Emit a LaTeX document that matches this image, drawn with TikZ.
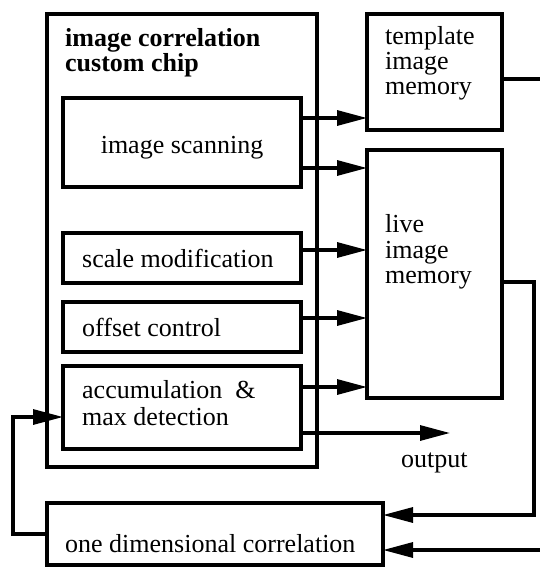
\documentclass[tikz,border=0pt]{standalone}
\usepackage{fontspec}
\setmainfont{Liberation Serif}
\usetikzlibrary{arrows.meta}
\begin{document}
\begin{tikzpicture}[x=1pt,y=-1pt,
  box/.style={draw, line width=3.5pt, rectangle, inner sep=0pt, outer sep=0pt, anchor=north west},
  lbl/.style={anchor=base west, inner sep=0pt, font=\fontsize{26}{26}\selectfont},
  arr/.style={line width=3.2pt, -{Triangle[length=30pt,width=15pt]}},
  wire/.style={line width=3.2pt}]
\useasboundingbox (0,0) rectangle (540,567);
% boxes
\node[box, minimum width=270pt, minimum height=453pt] (chip) at (47,14) {};
\node[box, minimum width=135pt, minimum height=116pt] (tmpl) at (367,14) {};
\node[box, minimum width=135pt, minimum height=248pt] (live) at (367,150) {};
\node[box, minimum width=238pt, minimum height=89pt] (scan) at (63,98) {};
\node[box, minimum width=238pt, minimum height=50pt] (scale) at (63,233) {};
\node[box, minimum width=238pt, minimum height=50pt] (offs) at (63,302) {};
\node[box, minimum width=238pt, minimum height=83pt] (accum) at (63,366) {};
\node[box, minimum width=336pt, minimum height=62pt] (onedim) at (47,503) {};
% texts
\node[lbl, font=\fontsize{26}{26}\selectfont\bfseries] (t1) at (65,47) {image correlation};
\node[lbl, font=\fontsize{26}{26}\selectfont\bfseries] (t2) at (65,72) {custom chip};
\node[lbl] (tm1) at (385,45) {template};
\node[lbl] (tm2) at (385,70) {image};
\node[lbl] (tm3) at (385,95) {memory};
\node[lbl] (lv1) at (385,232) {live};
\node[lbl] (lv2) at (385,258) {image};
\node[lbl] (lv3) at (385,283) {memory};
\node[lbl, anchor=base] (sc) at (182,153) {image scanning};
\node[lbl] (sm) at (82,267) {scale modification};
\node[lbl] (oc) at (82,336) {offset control};
\node[lbl] (ac1) at (82,398) {accumulation\ \ \&};
\node[lbl] (ac2) at (82,425) {max detection};
\node[lbl] (od) at (65,552) {one dimensional correlation};
\node[lbl] (out) at (401,467) {output};
% helper coordinates
\coordinate (edgeR) at (540,0);
\coordinate (riseX) at (534,0);
\coordinate (fbX) at (13,0);
\coordinate (outX) at (450,0);
\coordinate (s1) at ([yshift=24.5pt]scan.east);
\coordinate (s2) at ([yshift=-25.5pt]scan.east);
\coordinate (m1) at ([yshift=8pt]scale.east);
\coordinate (o1) at ([yshift=9pt]offs.east);
\coordinate (a1) at ([yshift=20.5pt]accum.east);
\coordinate (a2) at ([yshift=-25.5pt]accum.east);
\coordinate (a3) at ([yshift=-9.5pt]accum.west);
\coordinate (tr) at ([yshift=-7pt]tmpl.east);
\coordinate (lr) at ([yshift=-8pt]live.east);
\coordinate (d1) at ([yshift=19pt]onedim.east);
\coordinate (d2) at ([yshift=-16pt]onedim.east);
% connectors
\draw[arr] (s1) -- (s1 -| tmpl.west);
\draw[arr] (s2) -- (s2 -| live.west);
\draw[arr] (m1) -- (m1 -| live.west);
\draw[arr] (o1) -- (o1 -| live.west);
\draw[arr] (a1) -- (a1 -| live.west);
\draw[arr] (a2) -- (a2 -| outX);
\draw[wire] (tr) -- (tr -| edgeR);
\draw[arr] (lr) -- (lr -| riseX) |- (d1);
\draw[arr] (d2 -| edgeR) -- (d2);
\draw[arr] (onedim.west) -- (onedim.west -| fbX) |- (a3);
\end{tikzpicture}
\end{document}
